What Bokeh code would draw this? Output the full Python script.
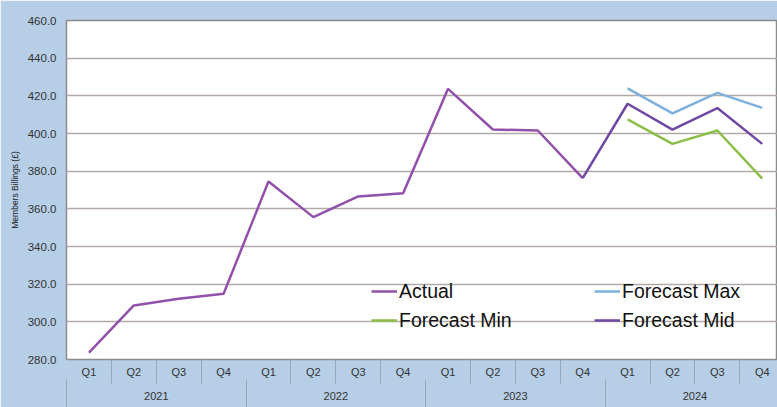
from bokeh.plotting import figure
from bokeh.models import (Range1d, LinearAxis, FixedTicker,
                          NumeralTickFormatter, Legend, LegendItem)
from bokeh.embed import file_html
from bokeh.resources import INLINE

# ---- data ----
years = ["2021", "2022", "2023", "2024"]
quarters = ["Q1", "Q2", "Q3", "Q4"]
y_ticks = [280, 300, 320, 340, 360, 380, 400, 420, 440, 460]

actual_values = [283.6, 308.7, 312.2, 314.9,
                 374.5, 355.6, 366.6, 368.3,
                 423.7, 402.1, 401.6, 376.3]
forecast_max = [424.0, 410.7, 421.6, 413.6]
forecast_min = [407.5, 394.5, 401.6, 376.0]
forecast_mid = [376.3, 415.8, 402.1, 413.5, 394.5]   # starts at 2023 Q4

# ---- derived positions (period index -> slot centre) ----
periods = [(y, q) for y in years for q in quarters]
n = len(periods)
slot = [i + 0.5 for i in range(n)]
actual_x = slot[:len(actual_values)]
forecast_x = slot[-len(forecast_max):]
mid_x = slot[-len(forecast_mid):]

BG = "#b6cee6"
FONT = "Liberation Sans"
SEP = "#93a7bb"

p = figure(width=777, height=407,
           x_range=Range1d(0, n - 0.16),
           y_range=Range1d(y_ticks[0], y_ticks[-1]),
           output_backend="svg", toolbar_location=None, x_axis_location=None,
           min_border_left=66, min_border_right=0, min_border_top=20, min_border_bottom=48,
           background_fill_color="white", border_fill_color=BG,
           outline_line_color="#8c8c8c", outline_line_width=1.5)

# y axis
yax = p.yaxis[0]
yax.ticker = FixedTicker(ticks=y_ticks)
yax.formatter = NumeralTickFormatter(format="0.0")
yax.axis_label = "Members Billings (£)"
yax.axis_label_text_font = FONT
yax.axis_label_text_font_style = "normal"
yax.axis_label_text_font_size = "8.5px"
yax.axis_label_text_color = "#222222"
yax.axis_label_standoff = 5
yax.major_label_text_font = FONT
yax.major_label_text_font_size = "11.5px"
yax.major_label_text_color = "#333333"
yax.major_label_standoff = 10
yax.major_tick_out = 0
yax.major_tick_in = 0
yax.minor_tick_out = 0
yax.minor_tick_in = 0
yax.axis_line_color = None

p.xgrid.visible = False
p.ygrid.grid_line_color = "#b3a9a9"
p.ygrid.grid_line_width = 1.5

# bottom two-row axis (quarters / years)
q_over = {t: per[1] for t, per in zip(slot, periods)}
q_minor = [i for i in range(1, n) if i % len(quarters)]
qax = LinearAxis(ticker=FixedTicker(ticks=slot, minor_ticks=q_minor),
                 major_label_overrides=q_over,
                 major_tick_out=0, major_tick_in=0,
                 minor_tick_in=0, minor_tick_out=24,
                 minor_tick_line_color=SEP, minor_tick_line_width=1,
                 axis_line_color=None, major_label_standoff=-18,
                 major_label_text_font=FONT, major_label_text_font_size="11px",
                 major_label_text_color="#333333")
nq = len(quarters)
y_pos = [i * nq + nq / 2 for i in range(len(years))]
y_over = {t: yr for t, yr in zip(y_pos, years)}
y_minor = [i * nq for i in range(len(years) + 1)]
yrax = LinearAxis(ticker=FixedTicker(ticks=y_pos, minor_ticks=y_minor),
                  major_label_overrides=y_over,
                  major_tick_out=0, major_tick_in=0,
                  minor_tick_in=0, minor_tick_out=30,
                  minor_tick_line_color=SEP, minor_tick_line_width=1,
                  axis_line_color=None, major_label_standoff=-19,
                  major_label_text_font=FONT, major_label_text_font_size="11px",
                  major_label_text_color="#333333")
p.add_layout(qax, "below")
p.add_layout(yrax, "below")

# lines
r_actual = p.line(actual_x, actual_values, line_color="#9150aa", line_width=2.5)
r_max = p.line(forecast_x, forecast_max, line_color="#7eb0de", line_width=2.5)
r_min = p.line(forecast_x, forecast_min, line_color="#8cbf48", line_width=2.5)
r_mid = p.line(mid_x, forecast_mid, line_color="#6f48a3", line_width=2.5)

def make_legend(items, loc):
    return Legend(items=items, location=loc, orientation="vertical",
                  background_fill_alpha=0, border_line_color=None,
                  padding=0, margin=0, spacing=5,
                  glyph_width=26, glyph_height=24, label_height=24,
                  label_standoff=2, label_text_font=FONT,
                  label_text_font_size="19.5px", label_text_color="#111111")

leg1 = make_legend([LegendItem(label="Actual", renderers=[r_actual]),
                    LegendItem(label="Forecast Min", renderers=[r_min])], (305, 27))
leg2 = make_legend([LegendItem(label="Forecast Max", renderers=[r_max]),
                    LegendItem(label="Forecast Mid", renderers=[r_mid])], (528, 27))
p.add_layout(leg1, "center")
p.add_layout(leg2, "center")

open("out.html", "w").write(file_html(p, INLINE))
